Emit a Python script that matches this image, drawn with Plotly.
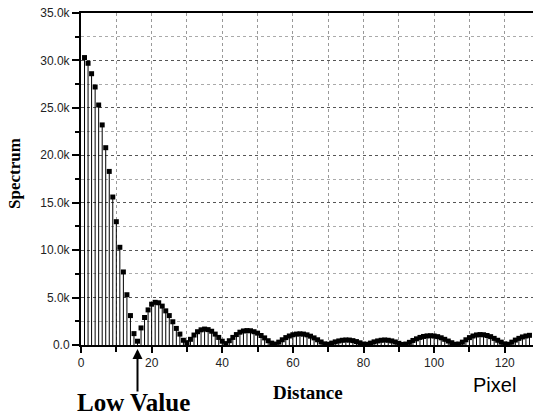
import plotly.graph_objects as go

distance = list(range(1, 128))
spectrum_k = [
    30.3, 29.7, 28.6, 27.2, 25.3, 23.2, 20.8, 18.3, 15.6, 13.0,
    10.3, 7.7, 5.3, 3.1, 1.2, 0.4, 1.8, 2.9, 3.7, 4.3,
    4.5, 4.45, 4.1, 3.6, 3.1, 2.45, 1.75, 1.15, 0.5, 0.25,
    0.6, 1.05, 1.4, 1.6, 1.68, 1.62, 1.45, 1.15, 0.8, 0.4,
    0.15, 0.45, 0.8, 1.1, 1.35, 1.48, 1.52, 1.5, 1.4, 1.25,
    1.0, 0.75, 0.45, 0.2, 0.1, 0.3, 0.55, 0.78, 0.95, 1.08,
    1.15, 1.18, 1.15, 1.07, 0.93, 0.75, 0.55, 0.32, 0.12, 0.08,
    0.2, 0.33, 0.43, 0.5, 0.53, 0.52, 0.46, 0.36, 0.23, 0.1,
    0.08, 0.2, 0.33, 0.43, 0.5, 0.53, 0.5, 0.43, 0.32, 0.18,
    0.06, 0.1, 0.28, 0.48, 0.65, 0.8, 0.9, 0.96, 0.98, 0.95,
    0.88, 0.76, 0.6, 0.42, 0.24, 0.08, 0.1, 0.3, 0.55, 0.78,
    0.95, 1.06, 1.1, 1.08, 1.0, 0.88, 0.7, 0.5, 0.3, 0.12,
    0.08, 0.3, 0.52, 0.7, 0.85, 0.95, 1.02,
]
spectrum = [v * 1000 for v in spectrum_k]

y_tickvals = [0, 5000, 10000, 15000, 20000, 25000, 30000, 35000]
y_ticktext = ["0.0", "5.0k", "10.0k", "15.0k", "20.0k", "25.0k", "30.0k", "35.0k"]
x_tickvals = [0, 20, 40, 60, 80, 100, 120]
x_ticktext = ["0", "20", "40", "60", "80", "100", "120"]
low_value_x = 16

W, H = 533, 418
ML, MR, MT, MB = 81, 0, 13, 73
PW, PH = W - ML - MR, H - MT - MB


def px(xp):
    return (xp - ML) / PW


def py(yp):
    return (H - MB - yp) / PH


fig = go.Figure()
fig.add_trace(go.Scatter(
    x=distance, y=spectrum, mode="markers",
    marker=dict(symbol="square", size=5, color="black", line=dict(width=0)),
    error_y=dict(type="data", symmetric=False, array=[0] * len(spectrum),
                 arrayminus=spectrum, color="black", thickness=1, width=0),
    showlegend=False, cliponaxis=False,
))

tick_font = dict(family="Liberation Sans, Arial, sans-serif", size=12, color="#222")
serif = "Liberation Serif, Times New Roman, serif"

fig.update_layout(
    width=W, height=H,
    margin=dict(l=ML, r=MR, t=MT, b=MB),
    paper_bgcolor="white", plot_bgcolor="white",
    xaxis=dict(
        range=[0, 128], tickvals=x_tickvals, ticktext=x_ticktext,
        ticks="outside", ticklen=6, tickwidth=1.5, tickcolor="black",
        showline=True, linecolor="black", linewidth=2, mirror=True,
        showgrid=True, gridcolor="#999", griddash="dot", gridwidth=1,
        minor=dict(dtick=10, tick0=0, ticks="outside", ticklen=5, tickcolor="black",
                   showgrid=True, gridcolor="#999", griddash="dot", gridwidth=1),
        zeroline=False, tickfont=tick_font,
    ),
    yaxis=dict(
        range=[0, 35000], tickvals=y_tickvals, ticktext=y_ticktext,
        ticks="outside", ticklen=7, tickwidth=1.5, tickcolor="black",
        showline=True, linecolor="black", linewidth=2, mirror=False,
        showgrid=True, gridcolor="#555", griddash="dot", gridwidth=1,
        minor=dict(dtick=2500, tick0=0, ticks="outside", ticklen=4, tickcolor="black",
                   showgrid=True, gridcolor="#aaa", griddash="dot", gridwidth=1),
        zeroline=False, tickfont=tick_font,
    ),
)

fig.add_annotation(
    x=low_value_x, y=0, xref="x", yref="y", ax=0, ay=48,
    showarrow=True, arrowhead=2, arrowsize=1, arrowwidth=2, arrowcolor="black",
    standoff=4, text="",
)
fig.add_annotation(
    x=px(14), y=py(174), xref="paper", yref="paper", text="<b>Spectrum</b>",
    showarrow=False, xanchor="center", yanchor="middle", textangle=-90,
    font=dict(family=serif, size=17, color="black"),
)
fig.add_annotation(
    x=px(133), y=py(402), xref="paper", yref="paper", text="<b>Low Value</b>",
    showarrow=False, xanchor="center", yanchor="middle",
    font=dict(family=serif, size=25, color="black"),
)
fig.add_annotation(
    x=px(308), y=py(392), xref="paper", yref="paper", text="<b>Distance</b>",
    showarrow=False, xanchor="center", yanchor="middle",
    font=dict(family=serif, size=19, color="black"),
)
fig.add_annotation(
    x=px(494), y=py(385), xref="paper", yref="paper", text="Pixel",
    showarrow=False, xanchor="center", yanchor="middle",
    font=dict(family="Liberation Sans, Arial, sans-serif", size=20, color="black"),
)

fig.write_html("out.html")
